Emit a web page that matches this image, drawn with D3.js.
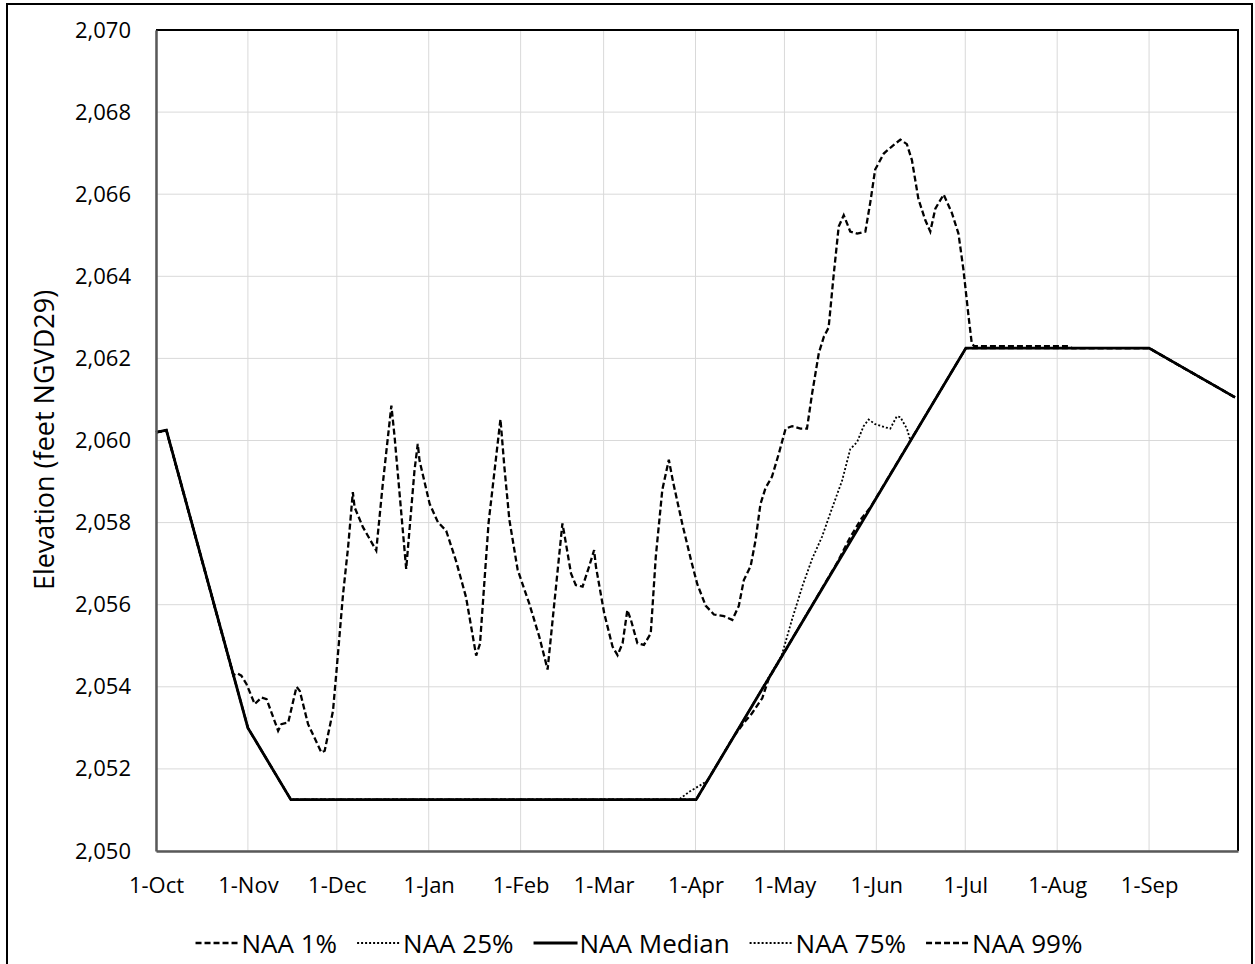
<!DOCTYPE html>
<html>
<head>
<meta charset="utf-8">
<script src="https://cdn.jsdelivr.net/npm/d3@7"></script>
<style>
body { margin: 0; background: #fff; }
text { font-family: "Open Sans", sans-serif; fill: #000; }
</style>
</head>
<body>
<div id="chart"></div>
<script>
var width = 1255;
var height = 964;
var plotLeft = 156, plotRight = 1238, plotTop = 30, plotBottom = 851;

// tick labels
var monthLabels = ["1-Oct", "1-Nov", "1-Dec", "1-Jan", "1-Feb", "1-Mar", "1-Apr", "1-May", "1-Jun", "1-Jul", "1-Aug", "1-Sep"];
var yTicks = [2050, 2052, 2054, 2056, 2058, 2060, 2062, 2064, 2066, 2068, 2070];

// series: day of water year (0 = 1-Oct) and elevation
var medianDays = [0, 3.5, 31, 45.5, 182.2, 273.2, 335, 364];
var medianVals = [2060.2, 2060.25, 2053.0, 2051.25, 2051.25, 2062.25, 2062.25, 2061.05];

var naa1Days = [0, 3.5, 26.1, 27.3, 28.8, 30.5, 33.3, 35.6, 37.3, 41.2, 42.3, 44.6, 47.4, 48.5, 51.3, 55.8, 56.9, 59.7, 60.8,
    63.1, 64.8, 66.4, 67, 69.8, 74.3, 76.5, 79.4, 80.5, 84.4, 87.2, 88.3, 88.9, 92.3, 95.1, 97.9, 101.2, 104.6, 108,
    109.3, 112.2, 116.2, 117.5, 119.2, 122, 125.9, 129.3, 132.1, 133.8, 137.1, 137.7, 140, 141.6, 143.9, 146.1, 147.8,
    148.4, 151.2, 154, 155.7, 157.4, 159, 160.2, 162.4, 164.6, 166.9, 168.6, 170.8, 173, 174.4, 177.6, 180.4, 182.6,
    185.4, 188.2, 191.6, 194.4, 196.6, 198.3, 200.6, 202.2, 203.9, 205.6, 207.8, 210.1, 212.4, 214.6, 217.4, 219.6,
    221.3, 223.6, 225.3, 226.9, 228.6, 230.3, 232, 234.2, 236.5, 239.3, 241, 242.6, 245.5, 248.2, 251.1, 253.3, 255,
    257.2, 259.5, 261.2, 262.9, 265.7, 268.5, 270.7, 272.4, 274.1, 275.2, 276, 307.7, 309, 335, 364];
var naa1Vals = [2060.2, 2060.25, 2054.28, 2054.33, 2054.27, 2054.07, 2053.58, 2053.74, 2053.70, 2052.93, 2053.09, 2053.13, 2054.0,
    2053.9, 2053.09, 2052.40, 2052.44, 2053.41, 2054.31, 2056.26, 2057.40, 2058.74, 2058.37, 2057.89, 2057.32, 2058.94,
    2060.85, 2060.08, 2056.87, 2059.27, 2059.92, 2059.51, 2058.46, 2058.01, 2057.80, 2057.07, 2056.18, 2054.76, 2055.05,
    2058.0, 2060.52, 2059.37, 2058.07, 2056.85, 2056.03, 2055.22, 2054.42, 2055.63, 2057.98, 2057.74, 2056.76, 2056.48,
    2056.44, 2056.93, 2057.33, 2056.93, 2055.79, 2054.98, 2054.77, 2055.06, 2055.87, 2055.63, 2055.06, 2055.02, 2055.30,
    2057.17, 2058.80, 2059.53, 2059.0, 2057.95, 2057.11, 2056.5, 2055.98, 2055.76, 2055.72, 2055.63, 2055.97, 2056.6,
    2056.94, 2057.55, 2058.45, 2058.84, 2059.12, 2059.68, 2060.29, 2060.35, 2060.29, 2060.29, 2061.13, 2062.13, 2062.53,
    2062.75, 2064.03, 2065.21, 2065.49, 2065.09, 2065.04, 2065.09, 2065.82, 2066.60, 2066.99, 2067.16, 2067.33, 2067.22,
    2066.83, 2065.88, 2065.37, 2065.09, 2065.65, 2065.99, 2065.54, 2065.04, 2064.15, 2063.03, 2062.36, 2062.3, 2062.3,
    2062.25, 2062.25, 2061.05];

var naa25Days = [0, 3.5, 31, 45.5, 182.2, 211, 214.6, 218, 221.3, 224.7, 228, 231.4, 234.2, 236.5, 238.7, 240.4, 242.6,
    246, 247.7, 249.9, 251.1, 253.3, 254.5, 273.2, 335, 364];
var naa25Vals = [2060.2, 2060.25, 2053.0, 2051.25, 2051.25, 2054.75, 2055.65, 2056.44, 2057.11, 2057.66, 2058.34, 2059.01,
    2059.79, 2059.96, 2060.35, 2060.51, 2060.40, 2060.32, 2060.29, 2060.59, 2060.57, 2060.29, 2060.0, 2062.25, 2062.25, 2061.05];

var naa75Days = [0, 3.5, 31, 45.5, 176.4, 180, 184.3, 186, 273.2, 335, 364];
var naa75Vals = [2060.2, 2060.25, 2053.0, 2051.25, 2051.25, 2051.45, 2051.63, 2051.72, 2062.25, 2062.25, 2061.05];

var naa99Days = [0, 3.5, 31, 45.5, 182.2, 195, 198.3, 201, 204.5, 206.7, 230, 234, 238, 241, 273.2, 335, 364];
var naa99Vals = [2060.2, 2060.25, 2053.0, 2051.25, 2051.25, 2052.8, 2053.12, 2053.35, 2053.72, 2054.2, 2057.05, 2057.62,
    2058.1, 2058.37, 2062.25, 2062.25, 2061.05];

var start = new Date(2020, 9, 1);
var end = new Date(2021, 9, 1);
function dayToDate(d) { return new Date(start.getTime() + d * 864e5); }
function pairs(days, vals) { return days.map(function(d, i) { return {date: dayToDate(d), value: vals[i]}; }); }

var series = [
    {name: "NAA 1%", data: pairs(naa1Days, naa1Vals), dash: "6,3", width: 2.3},
    {name: "NAA 25%", data: pairs(naa25Days, naa25Vals), dash: "2,2", width: 1.8},
    {name: "NAA Median", data: pairs(medianDays, medianVals), dash: null, width: 2.8},
    {name: "NAA 75%", data: pairs(naa75Days, naa75Vals), dash: "2,2", width: 1.8},
    {name: "NAA 99%", data: pairs(naa99Days, naa99Vals), dash: "6,3", width: 2.3}
];

var svg = d3.select("#chart").append("svg")
    .attr("width", width)
    .attr("height", height);

svg.append("rect")  // outer frame
    .attr("x", 7).attr("y", 4)
    .attr("width", 1245).attr("height", 990)
    .attr("fill", "none").attr("stroke", "#000").attr("stroke-width", 2);

var x = d3.scaleTime().domain([start, end]).range([plotLeft, plotRight]);
var y = d3.scaleLinear().domain([2050, 2070]).range([plotBottom, plotTop]);
var months = d3.timeMonth.range(start, end);

// grid
svg.append("g").selectAll("line")
    .data(yTicks).enter().append("line")
    .attr("x1", plotLeft).attr("x2", plotRight)
    .attr("y1", function(d) { return y(d); }).attr("y2", function(d) { return y(d); })
    .attr("stroke", "#d9d9d9").attr("stroke-width", 1);
svg.append("g").selectAll("line")
    .data(months).enter().append("line")
    .attr("x1", function(d) { return x(d); }).attr("x2", function(d) { return x(d); })
    .attr("y1", plotTop).attr("y2", plotBottom)
    .attr("stroke", "#d9d9d9").attr("stroke-width", 1);

// plot border (top, right)
svg.append("path")
    .attr("d", "M" + plotLeft + "," + plotTop + "H" + plotRight + "V" + plotBottom)
    .attr("fill", "none").attr("stroke", "#000").attr("stroke-width", 2);

var line = d3.line()
    .x(function(d) { return x(d.date); })
    .y(function(d) { return y(d.value); });

// draw median last so it sits on top
var drawOrder = [0, 1, 3, 4, 2];
svg.append("g").selectAll("path")
    .data(drawOrder.map(function(i) { return series[i]; }))
    .enter().append("path")
    .attr("d", function(d) { return line(d.data); })
    .attr("fill", "none")
    .attr("stroke", "#000")
    .attr("stroke-width", function(d) { return d.width; })
    .attr("stroke-dasharray", function(d) { return d.dash; });

// axes
var yAxis = d3.axisLeft(y).tickValues(yTicks).tickFormat(d3.format(",")).tickSize(0).tickPadding(25);
var gy = svg.append("g").attr("transform", "translate(" + plotLeft + ",0)").call(yAxis);
gy.selectAll("text").style("font-size", "22px").style("font-family", "'Open Sans', sans-serif");
gy.select(".domain").attr("stroke", "#595959").attr("stroke-width", 2.5);

var xAxis = d3.axisBottom(x).tickValues(months)
    .tickFormat(function(d, i) { return monthLabels[i]; })
    .tickSize(0).tickPadding(26);
var gx = svg.append("g").attr("transform", "translate(0," + plotBottom + ")").call(xAxis);
gx.selectAll("text").style("font-size", "22px").style("font-family", "'Open Sans', sans-serif");
gx.select(".domain").attr("stroke", "#595959").attr("stroke-width", 2.5);

// y title
svg.append("text")
    .attr("transform", "translate(47," + 440 + ") rotate(-90)")
    .attr("text-anchor", "middle")
    .attr("dominant-baseline", "middle")
    .style("font-size", "27px")
    .text("Elevation (feet NGVD29)");

// legend
var legend = svg.append("g");
var items = legend.selectAll("g").data(series).enter().append("g");
items.append("line")
    .attr("x1", 0).attr("x2", 44).attr("y1", 0).attr("y2", 0)
    .attr("stroke", "#000")
    .attr("stroke-width", function(d) { return d.width; })
    .attr("stroke-dasharray", function(d) { return d.dash; });
items.append("text")
    .attr("x", 46).attr("y", 0)
    .attr("dominant-baseline", "central")
    .style("font-size", "26px")
    .text(function(d) { return d.name; });
var pos = 0;
var gap = 20;
items.each(function() {
    var w = 46 + d3.select(this).select("text").node().getComputedTextLength();
    d3.select(this).attr("transform", "translate(" + pos + ",0)");
    pos += w + gap;
});
var total = pos - gap;
legend.attr("transform", "translate(" + (639 - total / 2) + ",943)");
</script>
</body>
</html>
